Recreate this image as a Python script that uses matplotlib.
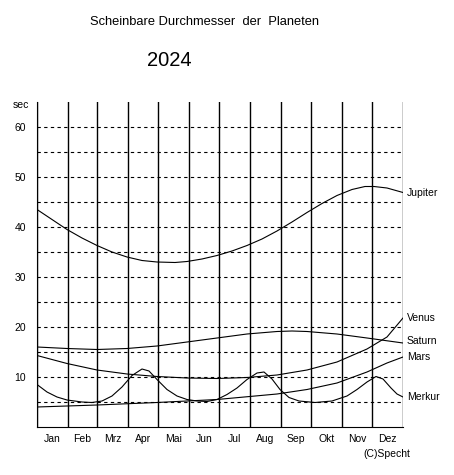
import matplotlib
matplotlib.use("Agg")
import matplotlib.pyplot as plt

months = ["Jan","Feb","Mrz","Apr","Mai","Jun","Jul","Aug","Sep","Okt","Nov","Dez"]
month_starts = [0,31,60,91,121,152,182,213,244,274,305,335,366]

jup_d = [0,15,30,45,60,75,90,105,120,138,150,165,180,195,210,225,240,255,270,285,300,315,328,337,350,366]
jup_v = [43.5,41.5,39.5,37.8,36.3,35.0,34.0,33.3,33.0,32.9,33.1,33.6,34.3,35.2,36.3,37.6,39.2,41.0,42.9,44.7,46.3,47.5,48.1,48.1,47.8,46.9]
sat_d = [0,30,60,90,120,150,180,210,240,255,270,300,330,366]
sat_v = [16.0,15.7,15.5,15.7,16.2,17.0,17.8,18.6,19.1,19.2,19.1,18.6,17.8,16.8]
ven_d = [0,30,60,90,120,150,180,210,240,270,300,330,350,366]
ven_v = [14.3,12.7,11.4,10.6,10.1,9.8,9.7,9.9,10.4,11.4,13.0,15.6,18.0,21.8]
mar_d = [0,60,120,180,240,270,300,330,350,366]
mar_v = [4.0,4.4,4.9,5.5,6.6,7.5,8.8,11.0,12.8,14.0]
mer_d = [0,10,20,30,45,55,65,75,85,95,105,112,120,130,140,150,160,170,180,190,200,210,220,227,235,243,252,262,278,295,310,320,330,339,346,354,360,366]
mer_v = [8.5,7.0,6.0,5.4,5.0,4.9,5.2,6.2,8.0,10.3,11.6,11.2,9.5,7.5,6.2,5.5,5.2,5.1,5.5,6.5,7.8,9.5,10.8,11.0,9.6,7.5,5.9,5.2,4.9,5.2,6.2,7.5,9.0,10.1,9.6,7.8,6.6,6.0]

labels = [("Jupiter",46.8),("Venus",21.8),("Saturn",17.2),("Mars",14.0),("Merkur",6.0)]

plt.rcParams['font.family'] = ['Liberation Sans','DejaVu Sans']
fig = plt.figure(figsize=(4.54,4.75), dpi=100)
ax = fig.add_axes([37/454, 48/475, 366/454, 325/475])
ax.set_xlim(0,366); ax.set_ylim(0,65)
for y in range(5,65,5):
    ax.axhline(y, color='black', lw=0.8, ls=(0,(3,3)))
for d in month_starts:
    ax.axvline(d, color='black', lw=1)
for dd,vv in [(jup_d,jup_v),(sat_d,sat_v),(ven_d,ven_v),(mar_d,mar_v),(mer_d,mer_v)]:
    ax.plot(dd,vv,color='black',lw=0.8)
for s in ['top','right']:
    ax.spines[s].set_visible(False)
ax.set_xticks([])
ax.set_yticks([10,20,30,40,50,60])
ax.tick_params(axis='y', length=0, labelsize=7.5, pad=8)
for i,m in enumerate(months):
    ax.text((month_starts[i]+month_starts[i+1])/2, -1.4, m, ha='center', va='top', fontsize=7.5)
ax.text(350, -4.4, "(C)Specht", ha='center', va='top', fontsize=7.5)
ax.text(-8, 64.5, "sec", ha='right', va='center', fontsize=7.5)
for n,v in labels:
    ax.text(370, v, n, ha='left', va='center', fontsize=7.5)
fig.text(205/454, 1-22/475, "Scheinbare Durchmesser  der  Planeten", ha='center', va='center', fontsize=9.3)
fig.text(169/454, 1-60/475, "2024", ha='center', va='center', fontsize=14.5)
fig.savefig("out.png", dpi=100)
